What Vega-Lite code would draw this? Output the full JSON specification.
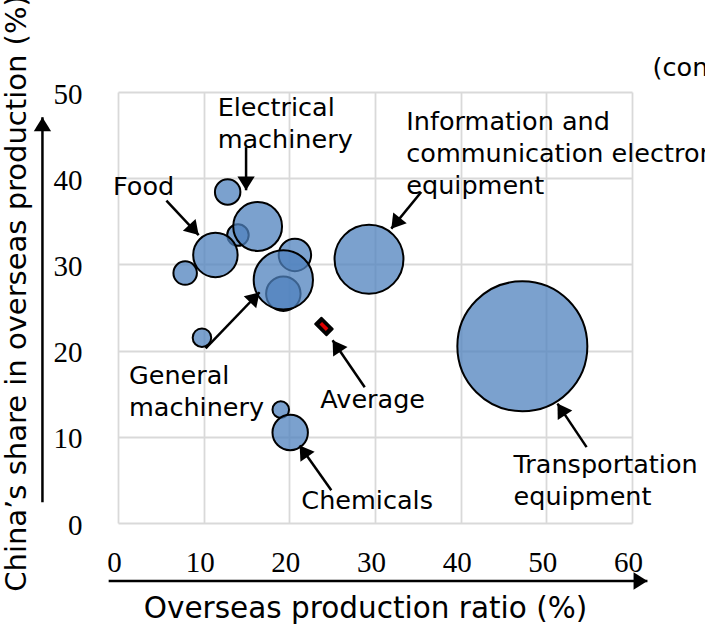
{
  "$schema": "https://vega.github.io/schema/vega-lite/v6.json",
  "width": 514,
  "height": 431,
  "autosize": {"type": "none"},
  "padding": {"left": 118, "top": 92, "right": 73, "bottom": 103},
  "background": "white",
  "config": {"view": {"stroke": null}, "font": "DejaVu Sans"},
  "datasets": {
    "bubbles": [
      {"id": "b1", "x": 14.0, "y": 33.4, "output": 2.74},
      {"id": "b2", "x": 20.65, "y": 31.1, "output": 6.23},
      {"id": "b3", "x": 19.3, "y": 26.6, "output": 7.02},
      {"id": "b4", "x": 12.8, "y": 38.4, "output": 3.84},
      {"id": "b5", "x": 7.84, "y": 29.0, "output": 3.27},
      {"id": "b6", "x": 9.8, "y": 21.5, "output": 2.03},
      {"id": "b7", "x": 19.0, "y": 13.15, "output": 1.62},
      {"id": "Chemicals", "x": 20.1, "y": 10.5, "output": 7.43},
      {"id": "Food", "x": 11.37, "y": 31.1, "output": 11.7},
      {"id": "Electrical machinery", "x": 16.3, "y": 34.4, "output": 14.1},
      {"id": "General machinery", "x": 19.3, "y": 28.2, "output": 20.8},
      {"id": "Information and communication electronics equipment", "x": 29.3, "y": 30.6, "output": 28.1},
      {"id": "Transportation equipment", "x": 47.2, "y": 20.5, "output": 100}
    ],
    "average": [{"id": "Average", "x": 24.04, "y": 22.8}],
    "arrows": [
      {"x": 14.95, "y": 43.6, "x2": 14.95, "y2": 38.6, "heading": 180},
      {"x": 5.65, "y": 37.4, "x2": 9.42, "y2": 33.4, "heading": 137},
      {"x": 35.4, "y": 38.4, "x2": 31.9, "y2": 34.15, "heading": 219},
      {"x": 10.23, "y": 20.27, "x2": 16.53, "y2": 26.77, "heading": 44},
      {"x": 28.8, "y": 15.74, "x2": 25.05, "y2": 21.2, "heading": -34},
      {"x": 24.9, "y": 3.8, "x2": 21.2, "y2": 9.0, "heading": -35},
      {"x": 54.7, "y": 8.8, "x2": 51.3, "y2": 13.85, "heading": -33},
      {"x": -1.09, "y": -6.73, "x2": 61.8, "y2": -6.73, "heading": 90},
      {"x": -8.82, "y": 2.4, "x2": -8.82, "y2": 47.06, "heading": 0}
    ],
    "labels": [
      {"x": 11.63, "y": 47.18, "label": "Electrical\nmachinery"},
      {"x": -0.58, "y": 38.0, "label": "Food"},
      {"x": 33.65, "y": 45.64, "label": "Information and\ncommunication electronics\nequipment"},
      {"x": 1.28, "y": 16.09, "label": "General\nmachinery"},
      {"x": 23.62, "y": 13.3, "label": "Average"},
      {"x": 21.4, "y": 1.67, "label": "Chemicals"},
      {"x": 46.17, "y": 5.8, "label": "Transportation\nequipment"},
      {"x": 62.4, "y": 51.8, "label": "(constant prices)"}
    ]
  },
  "encoding": {
    "x": {
      "field": "x", "type": "quantitative",
      "scale": {"domain": [0, 60], "nice": false, "zero": false},
      "axis": {
        "values": [0, 10, 20, 30, 40, 50, 60],
        "domain": false, "ticks": false, "tickSize": 0,
        "grid": true, "gridColor": "#d9d9d9", "gridWidth": 1.8,
        "labelFont": "Liberation Serif", "labelFontSize": 29, "labelColor": "black",
        "labelBaseline": "alphabetic", "labelPadding": 48, "labelOffset": -4,
        "labelFlush": false, "labelOverlap": false,
        "title": "Overseas production ratio (%)",
        "titleFont": "DejaVu Sans", "titleFontSize": 29.5, "titleFontWeight": "normal", "titleColor": "black",
        "titleX": 247, "titleY": 94, "titleAlign": "center", "titleBaseline": "alphabetic"
      }
    },
    "y": {
      "field": "y", "type": "quantitative",
      "scale": {"domain": [0, 50], "nice": false, "zero": false},
      "axis": {
        "values": [0, 10, 20, 30, 40, 50],
        "domain": false, "ticks": false, "tickSize": 0,
        "grid": true, "gridColor": "#d9d9d9", "gridWidth": 1.8,
        "labelFont": "Liberation Serif", "labelFontSize": 29, "labelColor": "black",
        "labelPadding": 36, "labelOffset": 2, "labelFlush": false, "labelOverlap": false,
        "title": "China’s share in overseas production (%)",
        "titleFont": "DejaVu Sans", "titleFontSize": 29, "titleFontWeight": "normal", "titleColor": "black",
        "titleX": -93, "titleY": 201, "titleAngle": 270, "titleAlign": "center", "titleBaseline": "alphabetic"
      }
    }
  },
  "layer": [
    {
      "data": {"name": "bubbles"},
      "mark": {"type": "point", "shape": "circle", "filled": true, "fill": "#4F81BD", "fillOpacity": 0.75, "stroke": "black", "strokeWidth": 2, "strokeOpacity": 1},
      "encoding": {
        "size": {"field": "output", "type": "quantitative", "scale": {"domain": [0, 100], "range": [0, 16900], "zero": true}, "legend": null}
      }
    },
    {
      "data": {"name": "average"},
      "mark": {"type": "point", "shape": "M-1,-0.55L1,-0.55L1,0.55L-1,0.55Z", "filled": true, "fill": "black", "stroke": "black", "strokeWidth": 2, "strokeJoin": "round", "opacity": 1, "size": 256, "angle": 45},
      "encoding": {}
    },
    {
      "data": {"name": "average"},
      "mark": {"type": "point", "shape": "M-1,-0.4L1,-0.4L1,0.4L-1,0.4Z", "filled": true, "fill": "#e00000", "strokeWidth": 0, "opacity": 1, "size": 81, "angle": 45},
      "encoding": {}
    },
    {
      "data": {"name": "arrows"},
      "mark": {"type": "rule", "color": "black", "strokeWidth": 2.5},
      "encoding": {
        "x2": {"field": "x2"},
        "y2": {"field": "y2"}
      }
    },
    {
      "data": {"name": "arrows"},
      "mark": {"type": "point", "shape": "M0,0L-1,1.6L1,1.6Z", "filled": true, "fill": "black", "strokeWidth": 0, "opacity": 1, "size": 300},
      "encoding": {
        "x": {"field": "x2", "type": "quantitative"},
        "y": {"field": "y2", "type": "quantitative"},
        "angle": {"field": "heading", "type": "quantitative", "scale": null}
      }
    },
    {
      "data": {"name": "labels"},
      "mark": {"type": "text", "align": "left", "baseline": "alphabetic", "lineBreak": "\n", "lineHeight": 32, "font": "DejaVu Sans", "fontSize": 25.5, "color": "black"},
      "encoding": {
        "text": {"field": "label", "type": "nominal"}
      }
    }
  ]
}
